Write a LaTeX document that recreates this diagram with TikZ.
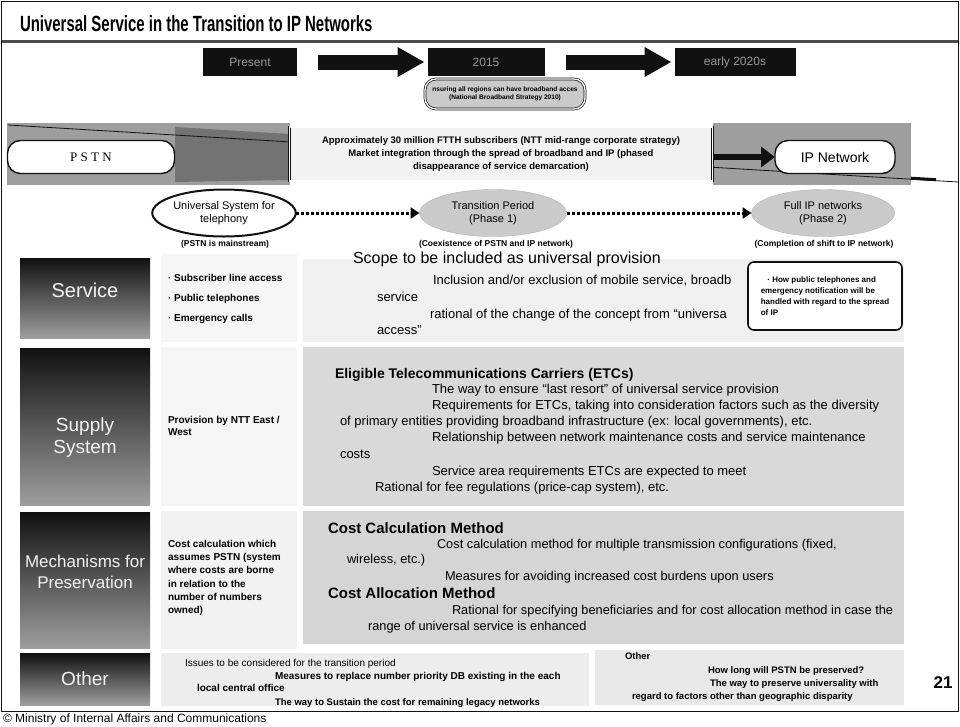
\documentclass[tikz,border=0pt]{standalone}
\usepackage{fontspec}
\setmainfont{Liberation Sans}
\newfontfamily\typeface{Liberation Serif}
\newfontfamily\slideface[FakeStretch=0.68]{Liberation Sans}
\usetikzlibrary{arrows.meta,positioning,shapes.geometric}

\definecolor{Ink}{HTML}{111111}
\definecolor{Haze}{HTML}{CACACA}
\definecolor{Smoke}{HTML}{9E9E9E}
\newcommand\pxfont[2]{\fontsize{#1}{#2}\selectfont}

\begin{document}
\begin{tikzpicture}[x=1pt,y=-1pt,>=Latex,
    every node/.style={inner sep=0pt,outer sep=0pt},
    tlbox/.style={fill=Ink,text=black!40,minimum height=28,font=\pxfont{12}{14}},
    blockarrow/.style={Ink,line width=15pt,-{Triangle[length=27pt,width=28pt]},shorten <=21pt,shorten >=3pt},
    rowlabel/.style={top color=Ink,bottom color=Smoke},
    labeltext/.style={text=gray!10,align=center,font=\pxfont{19}{22}},
    panel/.style={draw=Ink,double,double distance=1.3pt,line width=0.7pt},
    pill/.style={draw=Ink,line width=1.4pt,fill=white,rounded corners=13},
    phase/.style={ellipse,fill=Haze,draw=gray!60,align=center,font=\pxfont{11}{13}},
    caption/.style={font=\pxfont{8.5}{10}\bfseries},
    body/.style={anchor=base west,font=\pxfont{13}{15}},
    head/.style={anchor=base west,font=\pxfont{15}{17}\bfseries},
    small/.style={anchor=base west,font=\pxfont{10}{12}\bfseries},
    dotlink/.style={line width=3pt,dash pattern=on 3pt off 2pt,-{Triangle[length=9pt,width=11pt]}}
  ]
  \useasboundingbox (0,0) rectangle (960,726);
  \fill[white] (0,0) rectangle (960,726);

  % frame and heading
  \draw[Ink,line width=1pt] (1.5,1.5) rectangle (958.5,711);
  \node[anchor=base west,font=\slideface\pxfont{22}{26}\bfseries] (title) at (20,31)
    {Universal Service in the Transition to IP Networks};
  \draw[black!70,line width=3pt] (2,41) -- (958,41);

  % timeline
  \node[tlbox,minimum width=94] (now) at (250,62) {Present};
  \node[tlbox,minimum width=117] (mid) at (486,62) {2015};
  \node[tlbox,minimum width=121] (late) at (735,62) {early 2020s};
  \draw[blockarrow] (now) -- (mid);
  \draw[blockarrow] (mid) -- (late);
  \node[panel,fill=Haze,rounded corners=11,minimum width=160,minimum height=30,align=center,
        font=\pxfont{6.6}{8.5}\bfseries] (goal) at (505,94)
    {nsuring all regions can have broadband acces\\(National Broadband Strategy 2010)};

  % PSTN to IP band
  \draw[panel,fill=white] (5,121) rectangle (913,187);
  \fill[Smoke] (7,123) rectangle (290,185);
  \fill[Smoke] (713,123) rectangle (911,185);
  \fill[black!55] (175,127) -- (290,134) -- (290,180) -- (175,182) -- cycle;
  \draw[Ink,line width=0.8pt] (8,125) -- (958,182);
  \draw[Ink,line width=3pt] (911,178.2) -- (936,179.7);
  \node[pill,minimum width=167,minimum height=33,font=\typeface\pxfont{13}{15}] (pstn) at (91,157) {P S T N};
  \node[panel,fill=gray!10,minimum width=423,minimum height=54,align=center,
        font=\pxfont{9.5}{13}\bfseries] (ftth) at (501,154)
    {Approximately 30 million FTTH subscribers (NTT mid-range corporate strategy)\\
     Market integration through the spread of broadband and IP (phased\\
     disappearance of service demarcation)};
  \node[pill,minimum width=120,minimum height=33,font=\pxfont{14}{16}] (ipnet) at (835,157) {IP Network};
  \draw[Ink,line width=6pt,-{Triangle[length=14pt,width=20pt]}] (ftth.east |- ipnet.west) -- (ipnet.west);

  % phases
  \node[ellipse,draw=Ink,line width=2pt,fill=white,minimum width=132,minimum height=47,align=center,
        font=\pxfont{11}{13}] (pstnera) at (224,213) {Universal System for\\telephony};
  \node[phase,minimum width=147,minimum height=47] (shift) at (493,213) {Transition Period\\(Phase 1)};
  \node[phase,minimum width=143,minimum height=47] (allip) at (823,213) {Full IP networks\\(Phase 2)};
  \draw[dotlink] (pstnera) -- (shift);
  \draw[dotlink] (shift) -- (allip);
  \node[caption] (cap1) at (225,244) {(PSTN is mainstream)};
  \node[caption] (cap2) at (496,244) {(Coexistence of PSTN and IP network)};
  \node[caption] (cap3) at (824,244) {(Completion of shift to IP network)};

  % row labels
  \path[rowlabel] (20,258) rectangle (150,338);
  \path[rowlabel] (20,348) rectangle (150,505);
  \path[rowlabel] (20,512) rectangle (150,648);
  \path[rowlabel] (20,653) rectangle (150,705);
  \node[labeltext,font=\pxfont{20}{22}] (service) at (85,290) {Service};
  \node[labeltext] (supply) at (85,438) {Supply\\System};
  \node[labeltext,font=\pxfont{17}{21}] (keep) at (85,572) {Mechanisms for\\Preservation};
  \node[labeltext] (other) at (85,679) {Other};

  % boxes
  \draw[panel,fill=gray!8] (160,253) rectangle (298,343);
  \draw[panel,fill=gray!8] (160,346) rectangle (298,507);
  \draw[panel,fill=gray!10] (160,510) rectangle (298,650);
  \draw[panel,fill=gray!14] (160,652) rectangle (590,707);
  \draw[panel,fill=gray!12] (302,258) rectangle (905,343);
  \draw[panel,fill=gray!30] (302,346) rectangle (905,507);
  \draw[panel,fill=gray!33] (302,510) rectangle (905,645);
  \draw[panel,fill=gray!18] (594,649) rectangle (905,706);

  % today's universal service
  \node[small] (sub) at (168,281) {· Subscriber line access};
  \node[small] (pay) at (168,301) {· Public telephones};
  \node[small] (sos) at (168,321) {· Emergency calls};
  \node[small,align=left,anchor=west] (ntt) at (168,426) {Provision by NTT East /\\West};
  \node[small,align=left,anchor=north west,font=\pxfont{10}{13.3}\bfseries] (mcost) at (168,540)
    {Cost calculation which\\assumes PSTN (system\\where costs are borne\\in relation to the\\number of numbers\\owned)};

  % service scope
  \node[anchor=base west,font=\pxfont{16}{18}] (scope) at (353,263) {Scope to be included as universal provision};
  \foreach \x/\y/\txt [count=\i] in {433/284/{Inclusion and/or exclusion of mobile service, broadb},
      377/301/service,430/318/{rational of the change of the concept from ``universa},377/334/access''}
    \node[body] (sc\i) at (\x,\y) {\txt};
  \node[draw=Ink,line width=1.6pt,fill=white,rounded corners=6,minimum width=154,minimum height=68,
        align=left,font=\pxfont{8}{11}\bfseries] (ipnote) at (825,296)
    {\ \ \ · How public telephones and\\emergency notification will be\\handled with regard to the spread\\of IP};

  % supply system
  \node[head,font=\pxfont{14}{16}\bfseries] (etc) at (335,378) {Eligible Telecommunications Carriers (ETCs)};
  \foreach \x/\y/\txt [count=\i] in {432/393/{The way to ensure ``last resort'' of universal service provision},
      432/409/{Requirements for ETCs, taking into consideration factors such as the diversity},
      340/425/{of primary entities providing broadband infrastructure (ex: local governments), etc.},
      432/441/{Relationship between network maintenance costs and service maintenance},
      340/458/costs,
      432/475/{Service area requirements ETCs are expected to meet},
      375/491/{Rational for fee regulations (price-cap system), etc.}}
    \node[body] (et\i) at (\x,\y) {\txt};

  % preservation
  \node[head] (calc) at (328,533) {Cost Calculation Method};
  \node[head] (alloc) at (328,598) {Cost Allocation Method};
  \foreach \x/\y/\txt [count=\i] in {437/548/{Cost calculation method for multiple transmission configurations (fixed,},
      347/563/{wireless, etc.)},
      445/580/{Measures for avoiding increased cost burdens upon users},
      452/614/{Rational for specifying beneficiaries and for cost allocation method in case the},
      368/630/{range of universal service is enhanced}}
    \node[body,font=\pxfont{12.8}{15}] (cm\i) at (\x,\y) {\txt};

  % other
  \node[anchor=base west,font=\pxfont{10}{12}] (iss) at (185,666) {Issues to be considered for the transition period};
  \node[small] (db) at (275,679) {Measures to replace number priority DB existing in the each};
  \node[small] (loc) at (197,691) {local central office};
  \node[small,font=\pxfont{9.5}{11}\bfseries] (legacy) at (275,705) {The way to Sustain the cost for remaining legacy networks};
  \node[small,font=\pxfont{9.5}{11}\bfseries] (oth) at (625,659) {Other};
  \node[small,font=\pxfont{9.5}{11}\bfseries] (howlong) at (708,673) {How long will PSTN be preserved?};
  \node[small,font=\pxfont{9.5}{11}\bfseries] (geo) at (710,686) {The way to preserve universality with};
  \node[small,font=\pxfont{9.5}{11}\bfseries] (geo2) at (632,699) {regard to factors other than geographic disparity};

  % footer
  \node[anchor=base west,font=\pxfont{12}{14}] (credit) at (3,722) {© Ministry of Internal Affairs and Communications};
  \node[font=\pxfont{17}{19}\bfseries] (pageno) at (943,683) {21};
\end{tikzpicture}
\end{document}
